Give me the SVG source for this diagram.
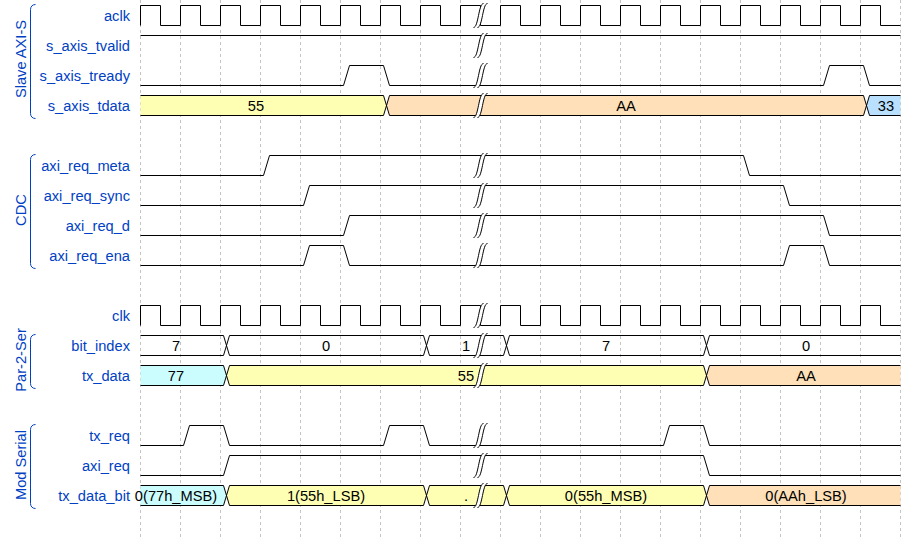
<svg xmlns="http://www.w3.org/2000/svg" xmlns:xlink="http://www.w3.org/1999/xlink" width="920" height="540" viewBox="0 0 920 540">
<style>
.name{font-family:"Liberation Sans",Arial,Helvetica,sans-serif;font-size:14.67px;fill:#0041c4;text-anchor:end}
.grp{font-family:"Liberation Sans",Arial,Helvetica,sans-serif;font-size:14.67px;fill:#0041c4;text-anchor:middle}
.data{font-family:"Liberation Sans",Arial,Helvetica,sans-serif;font-size:14.67px;fill:#000;text-anchor:middle}
.w{fill:none;stroke:#000;stroke-width:1}
.br{fill:none;stroke:#0041c4;stroke-width:1}
.grid{stroke:#888;stroke-width:0.5;stroke-dasharray:3,3}
.c3{fill:#ffffb4}
.c4{fill:#ffe0b9}
.c5{fill:#b9e0ff}
.c6{fill:#ccfdfe}
</style>
<defs>
<g id="gap">
<path d="M7,-2 H3 C-2,-2 -2,22 -7,22 H-3 C2,22 2,-2 7,-2 Z" fill="#fff" stroke="none"/>
<path d="M-7,22 C-2,22 -2,-2 3,-2 M-3,22 C2,22 2,-2 7,-2" fill="none" stroke="#000" stroke-width="1"/>
</g>
</defs>
<rect width="920" height="540" fill="#fff"/>
<g id="grid" transform="translate(0.5,0)">
<path class="grid" d="M140,0V540M180,0V540M220,0V540M260,0V540M300,0V540M340,0V540M380,0V540M420,0V540M460,0V540M500,0V540M540,0V540M580,0V540M620,0V540M660,0V540M700,0V540M740,0V540M780,0V540M820,0V540M860,0V540M900,0V540"/>
</g>
<g id="groups">
<path class="br" d="M35.5,4.5 c-3,0 -5,2 -5,5 l0,104 c0,3 2,5 5,5"/>
<text class="grp" transform="translate(26,59) rotate(-90)">Slave AXI-S</text>
<path class="br" d="M35.5,154.5 c-3,0 -5,2 -5,5 l0,104 c0,3 2,5 5,5"/>
<text class="grp" transform="translate(26,210) rotate(-90)">CDC</text>
<path class="br" d="M35.5,334.5 c-3,0 -5,2 -5,5 l0,44 c0,3 2,5 5,5"/>
<text class="grp" transform="translate(26,360) rotate(-90)">Par-2-Ser</text>
<path class="br" d="M35.5,424.5 c-3,0 -5,2 -5,5 l0,74 c0,3 2,5 5,5"/>
<text class="grp" transform="translate(26,465) rotate(-90)">Mod Serial</text>
</g>
<g id="sig-aclk">
<text class="name" x="130" y="21">aclk</text>
<path class="w" transform="translate(0.5,0.5)" d="M140,25v-20h20v20h20v-20h20v20h20v-20h20v20h20v-20h20v20h20v-20h20v20h20v-20h20v20h20v-20h20v20h20v-20h20v20h20v-20h20v20h20v-20h20v20h20v-20h20v20h20v-20h20v20h20v-20h20v20h20v-20h20v20h20v-20h20v20h20v-20h20v20h20v-20h20v20h20v-20h20v20h20v-20h20v20h20"/>
</g>
<g id="sig-s_axis_tvalid">
<text class="name" x="130" y="51">s_axis_tvalid</text>
<path class="w" transform="translate(0.5,0.5)" d="M140,35H900"/>
</g>
<g id="sig-s_axis_tready">
<text class="name" x="130" y="81">s_axis_tready</text>
<path class="w" transform="translate(0.5,0.5)" d="M140,85H343L349,65H383L389,85H823L829,65H863L869,85H900"/>
</g>
<g id="sig-s_axis_tdata">
<text class="name" x="130" y="111">s_axis_tdata</text>
<g transform="translate(0.5,0.5)">
<polygon class="c3" points="140,95 383,95 386,105 383,115 140,115"/>
<polygon class="c4" points="386,105 389,95 863,95 866,105 863,115 389,115"/>
<polygon class="c5" points="866,105 869,95 900,95 900,115 869,115"/>
<path class="w" d="M140,95H383L389,115H863L869,95H900M140,115H383L389,95H863L869,115H900"/>
</g>
<text class="data" x="256" y="111">55</text>
<text class="data" x="626" y="111">AA</text>
<text class="data" x="886" y="111">33</text>
</g>
<g id="sig-axi_req_meta">
<text class="name" x="130" y="171">axi_req_meta</text>
<path class="w" transform="translate(0.5,0.5)" d="M140,175H263L269,155H743L749,175H900"/>
</g>
<g id="sig-axi_req_sync">
<text class="name" x="130" y="201">axi_req_sync</text>
<path class="w" transform="translate(0.5,0.5)" d="M140,205H303L309,185H783L789,205H900"/>
</g>
<g id="sig-axi_req_d">
<text class="name" x="130" y="231">axi_req_d</text>
<path class="w" transform="translate(0.5,0.5)" d="M140,235H343L349,215H823L829,235H900"/>
</g>
<g id="sig-axi_req_ena">
<text class="name" x="130" y="261">axi_req_ena</text>
<path class="w" transform="translate(0.5,0.5)" d="M140,265H303L309,245H343L349,265H783L789,245H823L829,265H900"/>
</g>
<g id="sig-clk">
<text class="name" x="130" y="321">clk</text>
<path class="w" transform="translate(0.5,0.5)" d="M140,325v-20h20v20h20v-20h20v20h20v-20h20v20h20v-20h20v20h20v-20h20v20h20v-20h20v20h20v-20h20v20h20v-20h20v20h20v-20h20v20h20v-20h20v20h20v-20h20v20h20v-20h20v20h20v-20h20v20h20v-20h20v20h20v-20h20v20h20v-20h20v20h20v-20h20v20h20v-20h20v20h20v-20h20v20h20"/>
</g>
<g id="sig-bit_index">
<text class="name" x="130" y="351">bit_index</text>
<path class="w" transform="translate(0.5,0.5)" d="M140,335H223L229,355H423L429,335H503L509,355H703L709,335H900M140,355H223L229,335H423L429,355H503L509,335H703L709,355H900"/>
<text class="data" x="176" y="351">7</text>
<text class="data" x="326" y="351">0</text>
<text class="data" x="466" y="351">1</text>
<text class="data" x="606" y="351">7</text>
<text class="data" x="806" y="351">0</text>
</g>
<g id="sig-tx_data">
<text class="name" x="130" y="381">tx_data</text>
<g transform="translate(0.5,0.5)">
<polygon class="c6" points="140,365 223,365 226,375 223,385 140,385"/>
<polygon class="c3" points="226,375 229,365 703,365 706,375 703,385 229,385"/>
<polygon class="c4" points="706,375 709,365 900,365 900,385 709,385"/>
<path class="w" d="M140,365H223L229,385H703L709,365H900M140,385H223L229,365H703L709,385H900"/>
</g>
<text class="data" x="176" y="381">77</text>
<text class="data" x="466" y="381">55</text>
<text class="data" x="806" y="381">AA</text>
</g>
<g id="sig-tx_req">
<text class="name" x="130" y="441">tx_req</text>
<path class="w" transform="translate(0.5,0.5)" d="M140,445H183L189,425H223L229,445H383L389,425H423L429,445H663L669,425H703L709,445H900"/>
</g>
<g id="sig-axi_req">
<text class="name" x="130" y="471">axi_req</text>
<path class="w" transform="translate(0.5,0.5)" d="M140,475H223L229,455H703L709,475H900"/>
</g>
<g id="sig-tx_data_bit">
<text class="name" x="130" y="501">tx_data_bit</text>
<g transform="translate(0.5,0.5)">
<polygon class="c6" points="140,485 223,485 226,495 223,505 140,505"/>
<polygon class="c3" points="226,495 229,485 423,485 426,495 423,505 229,505"/>
<polygon class="c3" points="426,495 429,485 503,485 506,495 503,505 429,505"/>
<polygon class="c3" points="506,495 509,485 703,485 706,495 703,505 509,505"/>
<polygon class="c4" points="706,495 709,485 900,485 900,505 709,505"/>
<path class="w" d="M140,485H223L229,505H423L429,485H503L509,505H703L709,485H900M140,505H223L229,485H423L429,505H503L509,485H703L709,505H900"/>
</g>
<text class="data" x="176" y="501">0(77h_MSB)</text>
<text class="data" x="326" y="501">1(55h_LSB)</text>
<text class="data" x="466" y="501">.</text>
<text class="data" x="606" y="501">0(55h_MSB)</text>
<text class="data" x="806" y="501">0(AAh_LSB)</text>
</g>
<g id="connectors" transform="translate(0.5,0.5)">
<use xlink:href="#gap" x="480" y="5"/>
<use xlink:href="#gap" x="480" y="35"/>
<use xlink:href="#gap" x="480" y="65"/>
<use xlink:href="#gap" x="480" y="95"/>
<use xlink:href="#gap" x="480" y="155"/>
<use xlink:href="#gap" x="480" y="185"/>
<use xlink:href="#gap" x="480" y="215"/>
<use xlink:href="#gap" x="480" y="245"/>
<use xlink:href="#gap" x="480" y="305"/>
<use xlink:href="#gap" x="480" y="335"/>
<use xlink:href="#gap" x="480" y="365"/>
<use xlink:href="#gap" x="480" y="425"/>
<use xlink:href="#gap" x="480" y="455"/>
<use xlink:href="#gap" x="480" y="485"/>
</g>
</svg>
